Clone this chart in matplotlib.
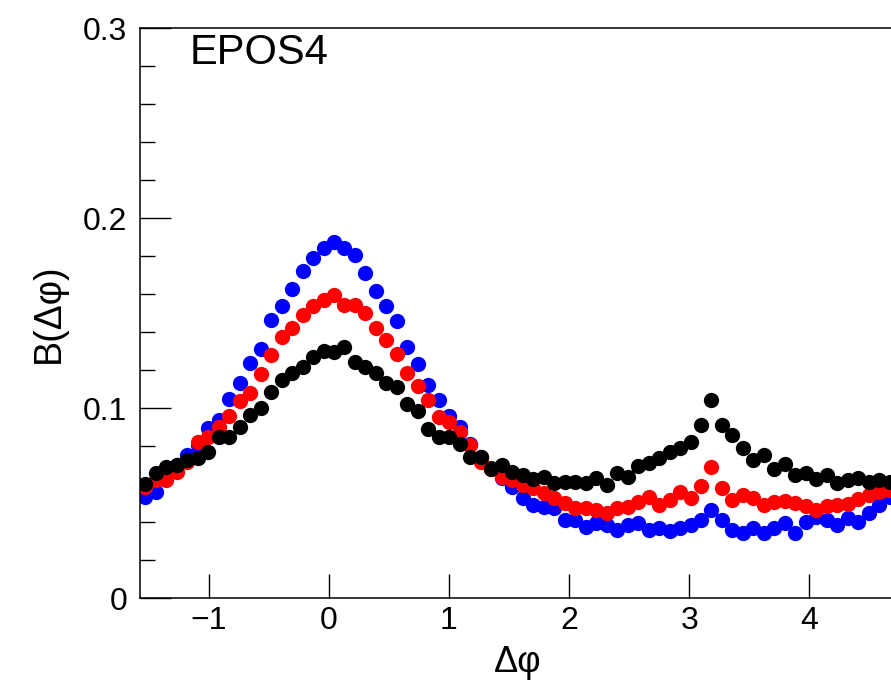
import numpy as np
import matplotlib
matplotlib.use("Agg")
import matplotlib.pyplot as plt
from matplotlib.ticker import MultipleLocator

plt.rcParams['font.family'] = ['Liberation Sans', 'DejaVu Sans']

#---------- data: 72 bins over [-pi/2, 3pi/2] ----------#
nbins = 72
edges = np.linspace(-np.pi / 2, 3 * np.pi / 2, nbins + 1)
dphi = 0.5 * (edges[:-1] + edges[1:])

b_blue = [0.0533, 0.0560, 0.0656, 0.0700, 0.0753, 0.0805, 0.0893, 0.0937, 0.1046, 0.1130,
          0.1239, 0.1311, 0.1463, 0.1537, 0.1625, 0.1723, 0.1788, 0.1840, 0.1875, 0.1840,
          0.1805, 0.1712, 0.1618, 0.1537, 0.1459, 0.1320, 0.1232, 0.1121, 0.1044, 0.0960,
          0.0900, 0.0810, 0.0740, 0.0683, 0.0630, 0.0585, 0.0525, 0.0490, 0.0480, 0.0472,
          0.0411, 0.0411, 0.0375, 0.0393, 0.0384, 0.0358, 0.0384, 0.0393, 0.0358, 0.0367,
          0.0354, 0.0367, 0.0384, 0.0411, 0.0463, 0.0411, 0.0358, 0.0340, 0.0367, 0.0340,
          0.0367, 0.0393, 0.0340, 0.0402, 0.0428, 0.0411, 0.0384, 0.0420, 0.0402, 0.0446,
          0.0490, 0.0530]

b_red = [0.0586, 0.0621, 0.0621, 0.0665, 0.0718, 0.0823, 0.0850, 0.0902, 0.0958, 0.1039,
         0.1080, 0.1178, 0.1279, 0.1375, 0.1420, 0.1490, 0.1537, 0.1568, 0.1595, 0.1542,
         0.1542, 0.1498, 0.1420, 0.1358, 0.1284, 0.1186, 0.1116, 0.1042, 0.0954, 0.0928,
         0.0875, 0.0805, 0.0714, 0.0680, 0.0638, 0.0621, 0.0595, 0.0577, 0.0551, 0.0525,
         0.0498, 0.0472, 0.0472, 0.0463, 0.0446, 0.0472, 0.0480, 0.0503, 0.0529, 0.0490,
         0.0516, 0.0559, 0.0525, 0.0589, 0.0691, 0.0577, 0.0516, 0.0542, 0.0525, 0.0490,
         0.0507, 0.0510, 0.0500, 0.0485, 0.0463, 0.0485, 0.0490, 0.0495, 0.0520, 0.0542,
         0.0560, 0.0570]

b_black = [0.0600, 0.0656, 0.0690, 0.0700, 0.0726, 0.0737, 0.0770, 0.0846, 0.0850, 0.0898,
           0.0963, 0.0998, 0.1086, 0.1147, 0.1182, 0.1218, 0.1270, 0.1300, 0.1297, 0.1320,
           0.1244, 0.1218, 0.1182, 0.1130, 0.1109, 0.1020, 0.0986, 0.0889, 0.0849, 0.0846,
           0.0810, 0.0744, 0.0744, 0.0680, 0.0700, 0.0665, 0.0647, 0.0625, 0.0638, 0.0604,
           0.0612, 0.0612, 0.0604, 0.0630, 0.0595, 0.0656, 0.0638, 0.0695, 0.0709, 0.0735,
           0.0770, 0.0788, 0.0823, 0.0910, 0.1042, 0.0910, 0.0858, 0.0788, 0.0726, 0.0755,
           0.0677, 0.0705, 0.0647, 0.0656, 0.0625, 0.0647, 0.0604, 0.0621, 0.0630, 0.0612,
           0.0621, 0.0610]

xticks = [-1, 0, 1, 2, 3, 4]
xticklabels = ['\u22121', '0', '1', '2', '3', '4']
yticks = [0, 0.1, 0.2, 0.3]
yticklabels = ['0', '0.1', '0.2', '0.3']

#---------- figure ----------#
fig = plt.figure(figsize=(8.91, 6.88), dpi=100)
# right edge sits just past the image, like the cropped original
ax = fig.add_axes([140 / 891, 90 / 688, 755 / 891, 570 / 688])

for vals, col in [(b_blue, 'blue'), (b_red, 'red'), (b_black, 'black')]:
    ax.plot(dphi, vals, 'o', color=col, markersize=11, markeredgewidth=0)

ax.set_xlim(-np.pi / 2, 3 * np.pi / 2)
ax.set_ylim(0, 0.3)
ax.set_xticks(xticks)
ax.set_xticklabels(xticklabels)
ax.set_yticks(yticks)
ax.set_yticklabels(yticklabels)
ax.yaxis.set_minor_locator(MultipleLocator(0.02))

ax.tick_params(which='both', direction='in', top=False, right=False, labelsize=23, width=1)
ax.tick_params(axis='x', which='major', length=17, pad=6)
ax.tick_params(axis='y', which='major', length=22, pad=9)
ax.tick_params(axis='y', which='minor', length=11)
for s in ax.spines.values():
    s.set_linewidth(1.1)

ax.set_xlabel('\u0394\u03c6', fontsize=26, labelpad=6)
ax.set_ylabel('B(\u0394\u03c6)', fontsize=27, labelpad=12)
ax.text(50 / 755, 1 - 36 / 570, 'EPOS4', fontsize=30, transform=ax.transAxes)

fig.savefig('out.png', dpi=100)
